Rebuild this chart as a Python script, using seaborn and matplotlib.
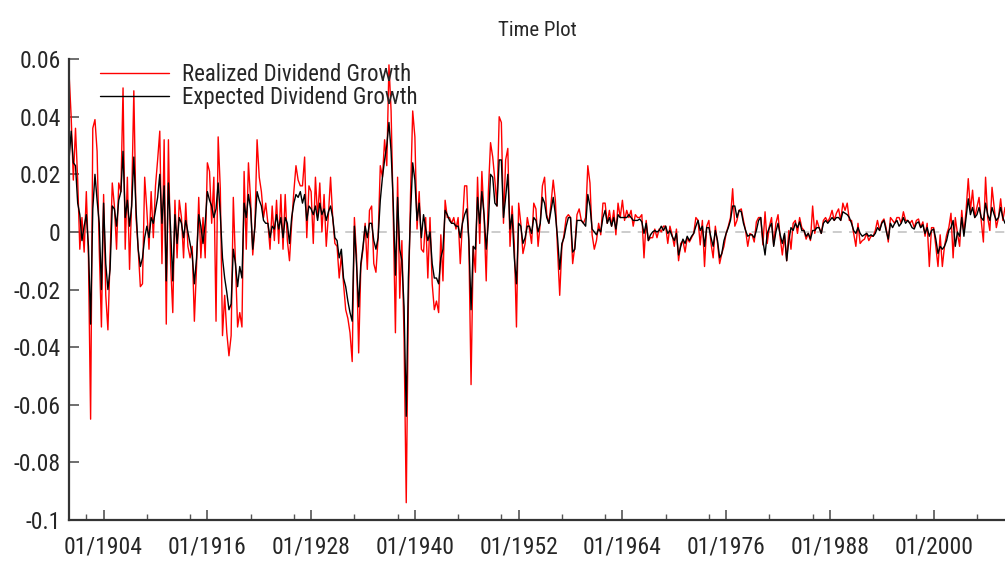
import numpy as np
import pandas as pd
import matplotlib
matplotlib.use("Agg")
import matplotlib.pyplot as plt
import matplotlib.dates as mdates
from matplotlib import font_manager
import seaborn as sns

# ─── DATA (quarterly, in percent) ─────────────────────────
realized_pct = [
    # 1900s
    5.5, 4.0, 1.8, 3.6,
    1.8, -0.6, 0.5, -0.7,
    1.4, -0.9, -6.5, 3.6,
    3.9, 2.8, -0.6, -3.3,
    1.3, -2.2, -3.4, -0.9,
    1.7, 0.9, -0.6, 1.7,
    1.4, 5.0, -0.6, 1.9,
    -1.3, 1.1, 4.9, 0.5,
    -0.6, -1.9, -1.8, 1.9,
    0.75, -0.6, 1.4, -0.2,
    # 1910s
    1.6, 2.5, 3.5, -1.1,
    3.2, -3.2, 3.2, -1.1,
    -2.8, 1.1, -0.9, 1.1,
    0.5, -0.9, 1.0, -0.5,
    -0.9, -0.5, -3.1, -1.2,
    1.2, -0.9, 0.5, -0.9,
    2.4, 2.1, 0.3, 1.9,
    -3.1, 3.3, 1.5, -3.6,
    -2.2, -3.5, -4.3, -3.6,
    1.2, -1.0, -3.3, -2.8,
    # 1920s
    -3.3, 2.1, -0.6, 2.4,
    1.1, -0.8, 0.2, 3.2,
    1.9, 1.4, 0.5, 1.0,
    0.3, -0.6, 0.9, -0.3,
    1.1, -0.4, 1.3, -0.6,
    1.3, -0.3, -1.0, 0.3,
    1.4, 2.3, 1.8, 1.6,
    1.6, 2.6, -0.2, 1.6,
    1.4, -0.4, 1.9, 0.5,
    1.7, 0.0, 1.3, -0.5,
    # 1930s
    0.6, 1.9, 0.5, -0.4,
    -0.5, -1.6, -0.8, -1.8,
    -2.7, -3.0, -3.5, -4.5,
    0.5, -0.8, -4.2, -1.2,
    -0.6, 0.3, -1.3, 0.75,
    0.9, -1.1, -1.4, -0.2,
    2.3, 1.9, 3.2, 2.3,
    5.8, 4.2, 0.6, -3.5,
    1.9, -2.3, -0.3, -3.7,
    -9.4, -2.5, 1.3, 4.2,
    # 1940s
    3.3, 0.1, 1.4, -0.6,
    -0.7, 0.5, -1.6, 0.5,
    -1.8, -2.7, -2.4, -2.8,
    -0.1, -1.7, 1.1, 0.5,
    0.5, 0.3, 0.5, 0.1,
    0.5, -1.1, 0.3, 1.6,
    1.6, -0.5, -5.3, -0.5,
    -1.4, 1.9, -0.4, 2.1,
    0.5, -1.7, 1.4, 3.1,
    2.6, 1.8, 0.9, 4.0,
    # 1950s
    3.8, 0.3, 2.5, 2.9,
    -0.5, 0.9, -0.4, -3.3,
    1.0, 0.3, -0.75, -0.4,
    0.5, 0.1, -0.4, 1.0,
    0.8, -0.5, 0.3, 1.6,
    1.9, 0.6, 0.3, 1.0,
    1.8, 1.1, -0.6, -2.2,
    -0.5, -0.1, 0.5, 0.6,
    0.5, -1.1, -0.5, 0.6,
    0.8, 0.4, 0.3, 0.5,
    # 1960s
    2.3, 1.7, -0.1, -0.6,
    -0.3, 0.3, -0.1, 1.0,
    1.0, 0.3, 0.75, 0.2,
    0.75, -0.1, 1.0, 0.5,
    1.1, 0.4, 0.75, 0.5,
    0.75, 0.2, 0.6, 0.5,
    0.5, 0.6, -0.9, 0.4,
    -0.3, -0.2, -0.2, 0.1,
    -0.2, 0.1, 0.0, 0.2,
    0.2, -0.4, 0.2, -0.1,
    # 1970s
    -0.5, 0.1, -1.0, -0.4,
    -0.3, -0.7, -0.2, -0.35,
    -0.2, -0.05, 0.5, 0.4,
    -0.45, 0.4, -1.2, 0.2,
    0.4, -0.4, -0.9, 0.2,
    -0.4, -1.1, -0.75, -0.5,
    -0.05, 0.2, 0.5, 1.5,
    0.2, 0.4, 0.75, 0.8,
    0.4, 0.05, -0.5, -0.05,
    -0.1, -0.35, 0.35, 0.5,
    # 1980s
    0.5, -0.45, 0.7, -0.4,
    0.2, 0.5, -0.45, 0.3,
    0.6, -0.2, -0.8, -0.1,
    -1.0, 0.05, -0.6, 0.3,
    0.4, -0.05, 0.5, 0.15,
    0.05, -0.25, -0.05, -0.3,
    0.9, -0.05, 0.4, 0.15,
    -0.05, 0.4, 0.5, 0.35,
    0.5, 0.75, 0.4, 0.65,
    0.8, 0.4, 1.0, 0.75,
    # 1990s
    1.0, 0.4, 0.4, -0.05,
    -0.5, 0.3, -0.4, -0.3,
    -0.25, -0.05, -0.3, -0.15,
    -0.15, 0.05, 0.4, 0.05,
    0.35, 0.45, 0.15, -0.35,
    0.5, 0.4, 0.3, 0.5,
    0.5, 0.3, 0.7, 0.4,
    0.4, 0.3, 0.4, 0.15,
    0.4, 0.45, 0.15, 0.35,
    -0.15, 0.3, -1.2, 0.15,
    # 2000s
    0.15, -0.5, -1.2, -0.1,
    -1.2, -0.5, -0.1, 0.15,
    0.65, -0.9, 0.5, -0.05,
    -0.5, 0.75, -0.05, 0.75,
    1.85, 0.75, 1.45, 0.5,
    0.85, 1.2, 0.4, -0.35,
    1.9, 0.5, 0.05, 1.55,
    0.85, 0.15, 0.5, 1.15,
    0.4, 0.85,
]

expected_pct = [
    # 1900s
    2.5, 3.5, 2.4, 2.3,
    1.0, 0.6, -0.3, 0.2,
    0.6, -0.5, -3.2, 0.8,
    2.0, 1.1, 0.3, -2.0,
    1.0, -1.1, -2.0, -1.3,
    0.9, 0.8, 0.2, 1.1,
    1.4, 2.8, 0.5, 1.1,
    0.2, 0.9, 2.6, 0.8,
    -0.6, -1.2, -0.9, -0.2,
    0.2, -0.2, 0.5, 0.3,
    # 1910s
    0.75, 1.2, 2.0, 0.3,
    1.6, -1.7, 1.7, 0.1,
    -1.7, 0.6, -0.4, 0.5,
    0.3, -0.2, 0.4, 0.0,
    -0.4, -0.8, -1.8, -0.9,
    0.6, 0.2, -0.4, 0.3,
    1.4, 1.1, 0.9, 0.5,
    0.8, 1.7, 0.6, -0.9,
    -1.6, -2.1, -2.7, -2.5,
    -0.6, -1.1, -1.9, -1.2,
    # 1920s
    -1.6, 1.0, 0.5, 1.3,
    0.8, -0.6, 0.2, 1.4,
    1.1, 0.9, 0.4, 0.3,
    0.3, -0.2, 0.2, 0.1,
    0.6, 0.1, 0.5, -0.2,
    0.5, 0.3, -0.4, 0.5,
    1.0, 1.3, 1.2, 1.4,
    1.0, 1.3, 0.4, 0.9,
    0.8, 0.6, 0.9, 0.4,
    1.0, 0.6, 0.8, 0.4,
    # 1930s
    0.7, 0.9, 0.5, -0.2,
    -0.3, -0.9, -0.6, -1.6,
    -1.9, -2.4, -2.8, -3.1,
    0.2, -1.1, -2.6, -1.1,
    -0.5, 0.2, -0.2, 0.3,
    0.3, -0.3, -0.6, -0.2,
    1.1, 1.9, 2.5, 3.0,
    3.8, 2.8, 1.0, -1.5,
    1.2, -0.6, -1.0, -2.6,
    -6.4, -1.6, 0.6, 2.4,
    # 1940s
    1.8, 0.4, 1.0, -0.2,
    0.6, 0.1, -0.3, 0.0,
    -1.1, -1.6, -1.6, -1.8,
    -0.9, -0.6, 0.75, 0.6,
    0.4, 0.3, 0.3, 0.2,
    0.2, -0.2, 0.3, 0.6,
    0.8, -0.3, -2.7, -0.5,
    -0.6, 1.2, 0.3, 1.4,
    0.6, -0.6, 0.3, 2.0,
    1.9, 1.0, 0.9, 2.5,
    # 1950s
    2.5, 0.5, 1.2, 2.0,
    0.1, 0.6, -0.9, -1.8,
    0.3, 0.2, -0.4, -0.2,
    0.2, 0.2, -0.05, 0.5,
    0.4, 0.0, 0.3, 1.2,
    1.0, 0.5, 0.3, 0.75,
    1.2, 0.6, -0.2, -1.3,
    -0.4, -0.2, 0.2, 0.5,
    0.5, -0.7, -0.6, 0.4,
    0.4, 0.4, 0.3, 0.2,
    # 1960s
    1.3, 0.9, 0.1, 0.0,
    -0.1, 0.1, 0.0, 0.5,
    0.75, 0.3, 0.5, 0.2,
    0.5, 0.1, 0.6, 0.5,
    0.5, 0.5, 0.5, 0.6,
    0.5, 0.4, 0.4, 0.4,
    0.45, 0.35, -0.05, 0.3,
    -0.3, -0.1, 0.0, 0.05,
    0.0, 0.05, 0.2, 0.05,
    0.2, -0.05, 0.05, -0.15,
    # 1970s
    -0.3, -0.05, -0.8, -0.5,
    -0.25, -0.4, -0.15, -0.3,
    -0.15, -0.05, 0.2, 0.4,
    0.05, 0.2, -0.5, 0.15,
    0.15, -0.2, -0.5, 0.05,
    -0.3, -0.9, -0.75, -0.3,
    -0.05, 0.15, 0.4, 0.9,
    0.9, 0.5, 0.75, 0.7,
    0.3, 0.05, -0.15, -0.1,
    -0.1, -0.2, 0.05, 0.4,
    # 1980s
    0.5, -0.3, -0.8, -0.05,
    0.15, 0.3, -0.5, 0.0,
    0.3, -0.1, -0.4, -0.05,
    -1.0, -0.3, 0.15, 0.05,
    0.3, 0.15, 0.35, 0.05,
    0.05, -0.15, -0.05, -0.25,
    0.05, 0.05, 0.15, 0.15,
    -0.05, 0.3, 0.4, 0.3,
    0.4, 0.5, 0.4, 0.5,
    0.5, 0.4, 0.7, 0.65,
    # 1990s
    0.6, 0.5, 0.3, 0.05,
    -0.05, 0.15, -0.05, -0.15,
    -0.1, -0.05, -0.15, -0.1,
    -0.15, -0.05, 0.15, 0.05,
    0.3, 0.4, 0.05, -0.25,
    0.3, 0.15, 0.3, 0.4,
    0.2, 0.3, 0.5, 0.3,
    0.4, 0.3, 0.15, 0.1,
    0.3, 0.35, 0.15, 0.25,
    -0.05, 0.15, -0.15, 0.05,
    # 2000s
    0.1, -0.25, -0.75, -0.5,
    -0.6, -0.5, -0.3, 0.05,
    0.15, 0.4, -0.5, 0.0,
    -0.15, 0.5, -0.15, 0.5,
    1.15, 0.6, 0.85, 0.5,
    0.6, 0.85, 0.5, 0.4,
    1.0, 0.6, 0.4, 0.85,
    0.6, 0.4, 0.5, 0.85,
    0.5, 0.3,
]

labels = ["Realized Dividend Growth", "Expected Dividend Growth"]
y_ticks = [-0.1, -0.08, -0.06, -0.04, -0.02, 0, 0.02, 0.04, 0.06]
y_tick_labels = ["-0.1", "-0.08", "-0.06", "-0.04", "-0.02", "0", "0.02", "0.04", "0.06"]
major_years = [1904, 1916, 1928, 1940, 1952, 1964, 1976, 1988, 2000]

assert len(realized_pct) == len(expected_pct)
dates = pd.date_range("1900-01-01", periods=len(realized_pct), freq="QS")
df = pd.DataFrame({
    "date": dates,
    "realized": np.array(realized_pct) / 100,
    "expected": np.array(expected_pct) / 100,
})

# ─── STYLE ────────────────────────────────────────────────
sns.set_style("ticks")

# the original uses a very narrow face; take a condensed one if installed
fonts = font_manager.fontManager.ttflist
names = {f.name for f in fonts}
narrow = None
for cand in ["Liberation Sans Narrow", "Arial Narrow", "Roboto Condensed",
             "Open Sans Condensed", "DejaVu Sans Condensed"]:
    if cand in names:
        narrow = cand
        break
if narrow:
    plt.rcParams["font.family"] = [narrow, "DejaVu Sans"]
    fs_tick, fs_leg, fs_title = 17, 16.5, 15
elif any(f.name == "DejaVu Sans" and f.stretch == "condensed" for f in fonts):
    plt.rcParams["font.family"] = ["DejaVu Sans"]
    plt.rcParams["font.stretch"] = "condensed"
    fs_tick, fs_leg, fs_title = 15.5, 14.5, 13.5
else:
    plt.rcParams["font.family"] = ["Liberation Sans", "DejaVu Sans"]
    fs_tick, fs_leg, fs_title = 15.5, 14.5, 14

fig = plt.figure(figsize=(10.05, 5.63), dpi=100)
ax = fig.add_axes([0.0687, 0.0764, 0.9313, 0.8186])

ax.axhline(0, color="#c8c8c8", ls=(0, (5, 4)), lw=1.3, zorder=0)
sns.lineplot(data=df, x="date", y="realized", ax=ax, color="#ff0000",
             lw=1.0, label=labels[0])
sns.lineplot(data=df, x="date", y="expected", ax=ax, color="#000000",
             lw=1.0, label=labels[1])

ax.set_ylim(-0.1, 0.06)
ax.set_xlim(dates[0], dates[-1])
ax.set_yticks(y_ticks)
ax.set_yticklabels(y_tick_labels)
ax.set_xticks([pd.Timestamp(f"{y}-01-01") for y in major_years])
ax.xaxis.set_major_formatter(mdates.DateFormatter("%m/%Y"))
minor = [pd.Timestamp(f"{y + o}-01-01") for y in [1892] + major_years for o in (5, 10)]
ax.set_xticks([m for m in minor if dates[0] < m < dates[-1]], minor=True)

ax.set_xlabel("")
ax.set_ylabel("")
ax.tick_params(axis="both", which="major", direction="in", length=7,
               width=1.2, color="#555555", labelsize=fs_tick, pad=6)
ax.tick_params(axis="x", which="minor", direction="in", length=4,
               width=1.0, color="#555555")
ax.tick_params(axis="x", which="major", pad=11)
sns.despine(ax=ax)
for side in ("left", "bottom"):
    ax.spines[side].set_color("#333333")
    ax.spines[side].set_linewidth(1.6)

ax.set_title("Time Plot", fontsize=fs_title, pad=17)
ax.legend(loc="upper left", bbox_to_anchor=(0.0995, 0.888),
          bbox_transform=fig.transFigure, frameon=False, fontsize=fs_leg,
          handlelength=3.0, handletextpad=0.6, labelspacing=0.0,
          borderpad=0, borderaxespad=0)

fig.savefig("out.png", dpi=100)
